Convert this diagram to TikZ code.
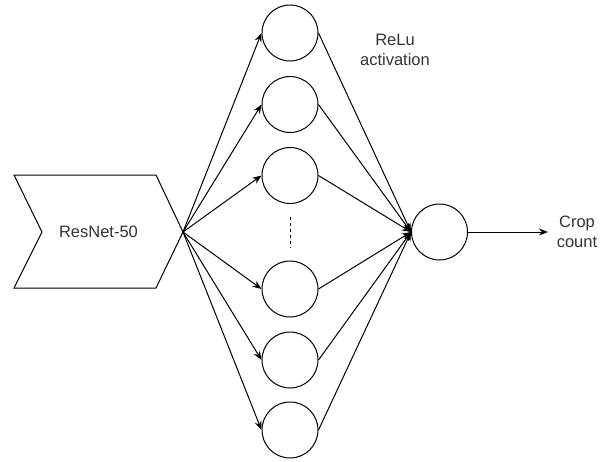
\documentclass[tikz,border=0pt]{standalone}
\usepackage{fontspec}
\setmainfont{Liberation Sans}
\usetikzlibrary{arrows.meta}
\begin{document}
\begin{tikzpicture}[x=1pt,y=-1pt,
  neuron/.style={draw, circle, line width=1pt, minimum size=56pt, inner sep=0pt},
  conn/.style={line width=1pt, -{Stealth[length=9pt,width=7pt]}},
  plain/.style={line width=1pt},
  lbl/.style={font=\fontsize{16.5}{20}\selectfont, text=black!80, align=center, inner sep=0pt}]
\useasboundingbox (0,0) rectangle (600,461);
% chevron
\draw[line width=1pt] (14,175) -- (156,175) -- (183,232) -- (156,288) -- (14,288) -- (42,232) -- cycle;
\coordinate (tip) at (183,232);
\node[lbl] (resnet) at (98.5,232) {ResNet-50};
% hidden layer
\node[neuron] (h1) at (290,33) {};
\node[neuron] (h2) at (290,104.5) {};
\node[neuron] (h3) at (290,175.5) {};
\node[neuron] (h4) at (290,289) {};
\node[neuron] (h5) at (290,360) {};
\node[neuron] (h6) at (290,430) {};
\coordinate (d1) at (290,217);
\coordinate (d2) at (290,248);
\draw[line width=1pt, dash pattern=on 3pt off 3pt] (d1) -- (d2);
% output
\node[neuron] (out) at (439.5,232) {};
\coordinate (res) at (548,232);
\node[lbl] (crop) at (577,232) {Crop\\count};
\node[lbl] (relu) at (395,50) {ReLu\\activation};
% connections
\foreach \h in {h1,h2,h3,h4,h5,h6} {
  \draw[conn] (tip) -- (\h.west);
  \draw[conn] (\h.east) -- (out.west);
}
\draw[conn] (out.east) -- (res);
\end{tikzpicture}
\end{document}
